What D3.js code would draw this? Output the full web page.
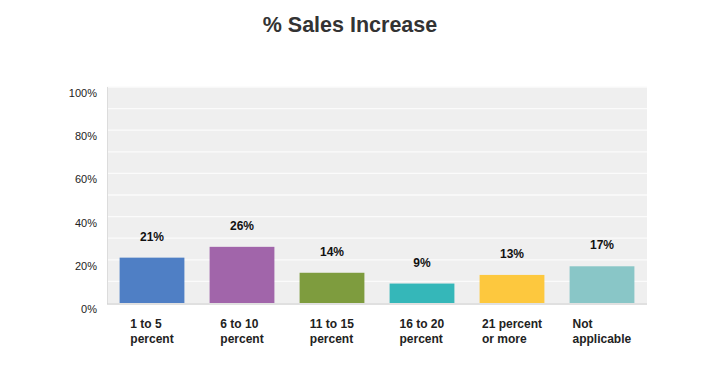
<!DOCTYPE html>
<html>
<head>
<meta charset="utf-8">
<script src="https://cdn.jsdelivr.net/npm/d3@7"></script>
<style>
  body { margin: 0; background: #fff; }
  text { font-family: "Liberation Sans", Arial, sans-serif; }
</style>
</head>
<body>
<div id="plotDiv"></div>
<script>
var categories = [["1 to 5", "percent"], ["6 to 10", "percent"], ["11 to 15", "percent"],
                  ["16 to 20", "percent"], ["21 percent", "or more"], ["Not", "applicable"]];
var values = [21, 26, 14, 9, 13, 17];
var barColors = ["#4f7fc5", "#a165aa", "#7e9c3e", "#35b7b9", "#fdc83e", "#89c6c7"];
var yTicks = [0, 20, 40, 60, 80, 100];

var width = 725, height = 379;
var plot = {left: 107, right: 647, top: 87, bottom: 303};

var svg = d3.select("#plotDiv")
    .append("svg")
    .attr("width", width)
    .attr("height", height);

var x = d3.scaleBand()
    .domain(d3.range(values.length))
    .range([plot.left, plot.right])
    .paddingInner(0.28)
    .paddingOuter(0.14);

var y = d3.scaleLinear()
    .domain([0, 100])
    .range([plot.bottom, plot.top]);

// plot background
svg.append("rect")
    .attr("x", plot.left)
    .attr("y", plot.top)
    .attr("width", plot.right - plot.left)
    .attr("height", plot.bottom - plot.top)
    .attr("fill", "#efefef");

// gridlines every 10%
svg.append("g")
    .selectAll("line")
    .data(d3.range(10, 101, 10))
    .enter()
    .append("line")
      .attr("x1", plot.left)
      .attr("x2", plot.right)
      .attr("y1", d => y(d))
      .attr("y2", d => y(d))
      .attr("stroke", "#fbfbfb")
      .attr("stroke-width", 1.3);

// left and bottom edges
svg.append("line")
    .attr("x1", plot.left + 0.5).attr("x2", plot.left + 0.5)
    .attr("y1", plot.top).attr("y2", plot.bottom + 1)
    .attr("stroke", "#dcdcdc");
svg.append("line")
    .attr("x1", plot.left).attr("x2", plot.right)
    .attr("y1", plot.bottom + 1).attr("y2", plot.bottom + 1)
    .attr("stroke", "#d6d6d6")
    .attr("stroke-width", 1.5);

// bars
svg.append("g")
    .selectAll("rect")
    .data(values)
    .enter()
    .append("rect")
      .attr("x", (d, i) => x(i))
      .attr("y", d => y(d))
      .attr("width", x.bandwidth())
      .attr("height", d => y(0) - y(d))
      .attr("fill", (d, i) => barColors[i]);

// value labels
svg.append("g")
    .selectAll("text")
    .data(values)
    .enter()
    .append("text")
      .attr("x", (d, i) => x(i) + x.bandwidth() / 2)
      .attr("y", d => y(d) - 17)
      .attr("text-anchor", "middle")
      .attr("font-size", 12)
      .attr("font-weight", "bold")
      .attr("fill", "#111")
      .text(d => d + "%");

// y tick labels
svg.append("g")
    .selectAll("text")
    .data(yTicks)
    .enter()
    .append("text")
      .attr("x", 97)
      .attr("y", d => y(d) + 10)
      .attr("text-anchor", "end")
      .attr("font-size", 11)
      .attr("fill", "#222")
      .text(d => d + "%");

// category labels: left-aligned block, centred under its bar
var cat = svg.append("g")
    .selectAll("text")
    .data(categories)
    .enter()
    .append("text")
      .attr("y", 328)
      .attr("font-size", 12)
      .attr("font-weight", "bold")
      .attr("fill", "#222");
cat.selectAll("tspan")
    .data(d => d)
    .enter()
    .append("tspan")
      .attr("x", 0)
      .attr("dy", (d, i) => i === 0 ? 0 : 15)
      .text(d => d);
cat.each(function(d, i) {
    var w = this.getBBox().width;
    var left = x(i) + x.bandwidth() / 2 - w / 2;
    d3.select(this).selectAll("tspan").attr("x", left);
});

// title
svg.append("text")
    .attr("x", 350)
    .attr("y", 32)
    .attr("text-anchor", "middle")
    .attr("font-size", 21.5)
    .attr("font-weight", "bold")
    .attr("fill", "#333")
    .text("% Sales Increase");
</script>
</body>
</html>
